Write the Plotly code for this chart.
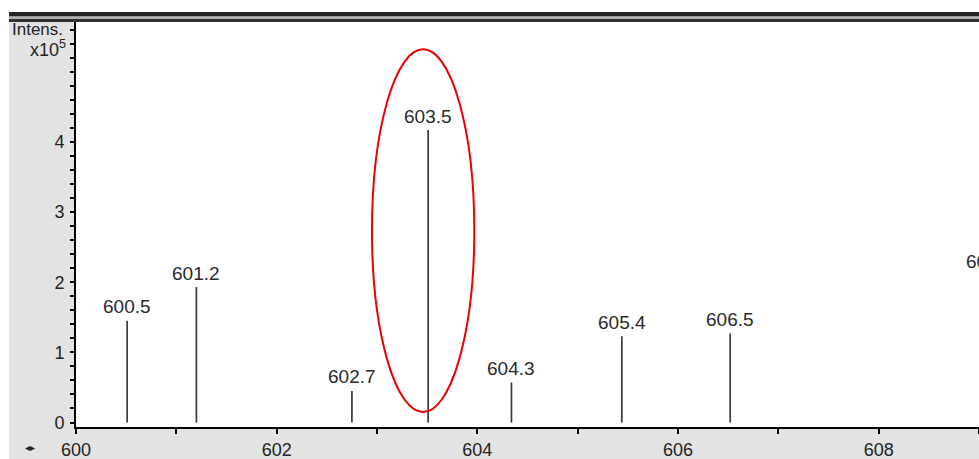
import plotly.graph_objects as go

# ---- data (intensity in units of 1e5) ----
peak_mz = [600.51, 601.20, 602.75, 603.51, 604.34, 605.44, 606.52, 609.11]
peak_intensity = [1.45, 1.93, 0.45, 4.17, 0.57, 1.23, 1.27, 2.09]
peak_labels = ["600.5", "601.2", "602.7", "603.5", "604.3", "605.4", "606.5", "609.1"]

x_range = [600, 609.0]
y_range = [-0.064, 5.71]
x_tickvals = [600, 602, 604, 606, 608]
y_tickvals = [0, 1, 2, 3, 4]

highlight = dict(x0=602.95, x1=603.97, y0=0.15, y1=5.32)  # red ellipse around 603.5

W, H = 979, 459
ML, MR, MT, MB = 76, 0, 22, 32
PW, PH = W - ML - MR, H - MT - MB


def px(xp):
    return (xp - ML) / PW


def py(yp):
    return (H - MB - yp) / PH


# stick spectrum
xs, ys = [], []
for m, v in zip(peak_mz, peak_intensity):
    xs += [m, m, None]
    ys += [0, v, None]

fig = go.Figure()
fig.add_trace(go.Scatter(x=xs, y=ys, mode="lines",
                         line=dict(color="#3a3a3a", width=1.7),
                         hoverinfo="skip", showlegend=False))

font_main = "Liberation Sans, Arial, sans-serif"

annotations = []
for m, v, t in zip(peak_mz, peak_intensity, peak_labels):
    inside = x_range[0] <= m <= x_range[1]
    annotations.append(dict(
        x=m if inside else (m - x_range[0]) / (x_range[1] - x_range[0]),
        y=v, xref="x" if inside else "paper", yref="y", text=t, showarrow=False,
        xanchor="center", yanchor="middle", yshift=14,
        font=dict(family=font_main, size=19, color="#2a2a2a")))

annotations += [
    dict(x=px(65), y=py(30), xref="paper", yref="paper", text="Intens.", showarrow=False,
         xanchor="right", yanchor="middle", font=dict(family=font_main, size=17, color="#222")),
    dict(x=px(68), y=py(48), xref="paper", yref="paper", text="x10<sup>5</sup>", showarrow=False,
         xanchor="right", yanchor="middle", font=dict(family=font_main, size=18, color="#222")),
    dict(x=px(30), y=py(447), xref="paper", yref="paper", text="◂▸", showarrow=False,
         xanchor="center", yanchor="middle", font=dict(family="DejaVu Sans", size=10, color="#222")),
]

shapes = [
    # white outer strips
    dict(type="rect", xref="paper", yref="paper", x0=px(0), x1=px(W), y0=py(0), y1=py(12),
         fillcolor="white", line=dict(width=0), layer="below"),
    dict(type="rect", xref="paper", yref="paper", x0=px(0), x1=px(9), y0=py(0), y1=py(H),
         fillcolor="white", line=dict(width=0), layer="below"),
    # dark top bar
    dict(type="rect", xref="paper", yref="paper", x0=px(9), x1=px(W), y0=py(12), y1=py(16.5),
         fillcolor="#262626", line=dict(width=0), layer="below"),
    dict(type="rect", xref="paper", yref="paper", x0=px(9), x1=px(W), y0=py(16.5), y1=py(19),
         fillcolor="#b0b0b0", line=dict(width=0), layer="below"),
    dict(type="rect", xref="paper", yref="paper", x0=px(9), x1=px(W), y0=py(19), y1=py(22),
         fillcolor="#303030", line=dict(width=0), layer="below"),
    # highlight ellipse
    dict(type="circle", xref="x", yref="y", line=dict(color="#ee0000", width=2), **highlight),
]

fig.update_layout(
    width=W, height=H,
    margin=dict(l=ML, r=MR, t=MT, b=MB, pad=0),
    paper_bgcolor="#e3e3e3",
    plot_bgcolor="white",
    showlegend=False,
    annotations=annotations,
    shapes=shapes,
    xaxis=dict(range=x_range, tickmode="array", tickvals=x_tickvals,
               showgrid=False, zeroline=False, showline=True, linecolor="black", linewidth=2,
               ticks="outside", ticklen=5, tickwidth=1.5, tickcolor="black",
               minor=dict(dtick=1, tick0=600, ticks="outside", ticklen=5, tickwidth=1.5,
                          tickcolor="black", showgrid=False),
               tickfont=dict(family=font_main, size=18, color="#222")),
    yaxis=dict(range=y_range, tickmode="array", tickvals=y_tickvals,
               showgrid=False, zeroline=False, showline=True, linecolor="black", linewidth=2,
               ticks="outside", ticklen=4, tickwidth=1.5, tickcolor="black",
               minor=dict(dtick=0.2, tick0=0, ticks="outside", ticklen=4, tickwidth=1.5,
                          tickcolor="black", showgrid=False),
               ticklabelstandoff=2,
               tickfont=dict(family=font_main, size=18, color="#222")),
)

fig.write_html(
    "out.html",
    config={"displayModeBar": False},
    post_script="document.body.style.margin='0';document.body.style.overflow='hidden';",
)
